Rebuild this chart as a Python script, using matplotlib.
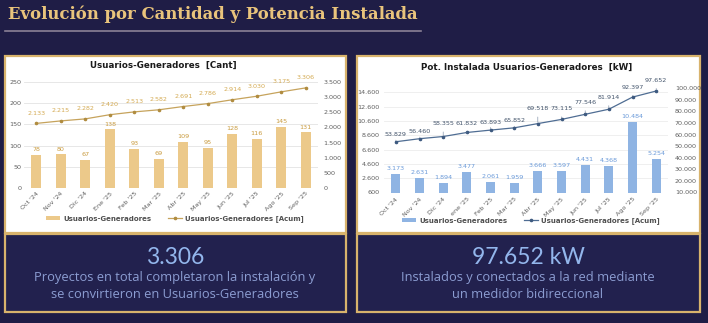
import matplotlib
matplotlib.use("Agg")
import matplotlib.pyplot as plt
from matplotlib.patches import Rectangle, Patch
from matplotlib.lines import Line2D

# ---------------- data ----------------
months_cant = ["Oct '24", "Nov '24", "Dic '24", "Ene '25", "Feb '25", "Mar '25",
               "Abr '25", "May '25", "Jun '25", "Jul '25", "Ago '25", "Sep '25"]
months_kw = ["Oct '24", "Nov '24", "Dic '24", "ene '25", "Feb '25", "Mar '25",
             "Abr '25", "May '25", "Jun '25", "Jul '25", "Ago '25", "Sep '25"]
users_monthly = [78, 80, 67, 138, 93, 69, 109, 95, 128, 116, 145, 131]
users_cumulative = [2133, 2215, 2282, 2420, 2513, 2582, 2691, 2786, 2914, 3030, 3175, 3306]
kw_monthly = [3173, 2631, 1894, 3477, 2061, 1959, 3666, 3597, 4431, 4368, 10484, 5254]
kw_cumulative = [53829, 56460, 58355, 61832, 63893, 65852, 69518, 73115, 77546, 81914, 92397, 97652]
left_ticks_cant = [0, 50, 100, 150, 200, 250]
right_ticks_cant = [0, 500, 1000, 1500, 2000, 2500, 3000, 3500]
left_ticks_kw = [600, 2600, 4600, 6600, 8600, 10600, 12600, 14600]
right_ticks_kw = [10000, 20000, 30000, 40000, 50000, 60000, 70000, 80000, 90000, 100000]
total_users_text = "3.306"
total_kw_text = "97.652 kW"

# label lift (pixels) for the kW cumulative labels (styling only)
kw_label_lift_px = [7, 7, 13, 9, 8, 7, 15, 11, 12, 12, 10, 11]

W, H = 708, 323
fig = plt.figure(figsize=(W / 100, H / 100), dpi=100)
fig.patch.set_facecolor("#1f1d46")

GOLD = "#d8b36c"
PANEL = "#22214e"


def fx(x):
    return x / W


def fy(y):
    return 1 - y / H


def rect(x0, y0, x1, y1, fc, ec=None, lw=0, z=0):
    r = Rectangle((fx(x0), fy(y1)), fx(x1) - fx(x0), fy(y0) - fy(y1),
                  transform=fig.transFigure, facecolor=fc,
                  edgecolor=ec if ec else "none", linewidth=lw, zorder=z)
    fig.patches.append(r)


def fmt(v):
    return f"{v:,.0f}".replace(",", ".")


# ---------------- header ----------------
fig.text(fx(8), fy(14), "Evolución por Cantidad y Potencia Instalada",
         family="DejaVu Serif", fontweight="bold", fontsize=11.9,
         color="#e9c47c", ha="left", va="center")
fig.add_artist(Line2D([fx(5), fx(421)], [fy(31), fy(31)], transform=fig.transFigure,
                      color="#8a8196", lw=1.2))

# ---------------- cards ----------------
for x0, x1 in [(5, 346), (357, 700)]:
    rect(x0, 56, x1, 233, "white", GOLD, 1.6, z=0)
    rect(x0, 234, x1, 312, PANEL, GOLD, 1.6, z=0)

TICK_COLOR = "#5f5f5f"
TICK_FS = 4.6

# ---------------- left chart ----------------
axL = fig.add_axes([fx(24), fy(188), fx(318) - fx(24), fy(82) - fy(188)])
axL.set_zorder(3)
axL.patch.set_visible(False)
x = list(range(len(months_cant)))
bar_c = "#ecc98a"
axL.bar(x, users_monthly, width=0.4, color=bar_c, zorder=2)
axL.set_ylim(0, 250)
axL.set_xlim(-0.5, len(x) - 0.5)
axL.set_yticks(left_ticks_cant)
axL.set_yticklabels([fmt(v) for v in left_ticks_cant])
axL.grid(axis="y", color="#e3e3e3", lw=0.6, zorder=0)
axL.set_axisbelow(True)
axL.set_xticks(x)
axL.set_xticklabels(months_cant, rotation=45, ha="right", rotation_mode="anchor")
for s in axL.spines.values():
    s.set_visible(False)
axL.tick_params(length=0, labelsize=TICK_FS, colors=TICK_COLOR, pad=2)
for i, v in enumerate(users_monthly):
    axL.annotate(fmt(v), (i, v), xytext=(0, 3.6), textcoords="offset points",
                 ha="center", va="center", fontsize=4.6, color="#c99b3f", clip_on=False)

axL2 = axL.twinx()
axL2.set_zorder(4)
axL2.patch.set_visible(False)
line_c = "#c6a35c"
axL2.plot(x, users_cumulative, color=line_c, lw=0.9, marker="o", ms=1.6,
          mfc="#b08c40", mec="#b08c40", zorder=3)
axL2.set_ylim(0, 3500)
axL2.set_yticks(right_ticks_cant)
axL2.set_yticklabels([fmt(v) for v in right_ticks_cant])
for s in axL2.spines.values():
    s.set_visible(False)
axL2.tick_params(length=0, labelsize=TICK_FS, colors=TICK_COLOR, pad=4)
for i, v in enumerate(users_cumulative):
    axL2.annotate(fmt(v), (i, v), xytext=(0, 7.2), textcoords="offset points",
                  ha="center", va="center", fontsize=4.6, color="#d4aa52",
                  clip_on=False)

fig.text(fx(163), fy(65), "Usuarios-Generadores  [Cant]", ha="center", va="center",
         fontsize=6.3, fontweight="bold", color="#1a1a1a")
handlesL = [Patch(facecolor=bar_c, edgecolor="none"),
            Line2D([0], [0], color=line_c, lw=0.9, marker="o", ms=1.6,
                   mfc="#b08c40", mec="#b08c40")]
fig.legend(handlesL, ["Usuarios-Generadores", "Usuarios-Generadores [Acum]"],
           loc="center", bbox_to_anchor=(fx(175), fy(219)), ncol=2, frameon=False,
           prop={"size": 5.0, "weight": "bold"}, labelcolor="#505050",
           handlelength=2.0, handleheight=0.6, columnspacing=2.5, handletextpad=0.4)

# ---------------- right chart ----------------
axR = fig.add_axes([fx(384), fy(192.5), fx(668) - fx(384), fy(88.3) - fy(192.5)])
axR.set_zorder(3)
axR.patch.set_visible(False)
xr = list(range(len(months_kw)))
bar_b = "#8fb4e3"
axR.bar(xr, kw_monthly, width=0.37, color=bar_b, zorder=2)
axR.set_ylim(600, 15150)
axR.set_xlim(-0.5, len(xr) - 0.5)
axR.set_yticks(left_ticks_kw)
axR.set_yticklabels([fmt(v) for v in left_ticks_kw])
axR.grid(axis="y", color="#ececec", lw=0.6, zorder=0)
axR.set_axisbelow(True)
axR.set_xticks(xr)
axR.set_xticklabels(months_kw, rotation=45, ha="right", rotation_mode="anchor")
for s in axR.spines.values():
    s.set_visible(False)
axR.tick_params(length=0, labelsize=TICK_FS, colors=TICK_COLOR, pad=3)
for i, v in enumerate(kw_monthly):
    axR.annotate(fmt(v), (i, v), xytext=(0, 3.8), textcoords="offset points",
                 ha="center", va="center", fontsize=4.6, color="#6a9ad9", clip_on=False)

axR2 = axR.twinx()
axR2.set_zorder(4)
axR2.patch.set_visible(False)
line_b = "#4f6d93"
axR2.plot(xr, kw_cumulative, color=line_b, lw=0.9, marker="o", ms=1.6,
          mfc="#3e5a80", mec="#3e5a80", zorder=3)
axR2.set_ylim(10000, 100000)
axR2.set_yticks(right_ticks_kw)
axR2.set_yticklabels([fmt(v) for v in right_ticks_kw])
for s in axR2.spines.values():
    s.set_visible(False)
axR2.tick_params(length=0, labelsize=TICK_FS, colors=TICK_COLOR, pad=5)
for i, v in enumerate(kw_cumulative):
    lift = kw_label_lift_px[i] * 0.72
    axR2.annotate(fmt(v), (i, v), xytext=(0, lift), textcoords="offset points",
                  ha="center", va="center", fontsize=4.6, color="#44556c",
                  clip_on=False,
                  arrowprops=dict(arrowstyle="-", color="#6b7f99", lw=0.4,
                                  shrinkA=2.2, shrinkB=0.8))

fig.text(fx(527), fy(67), "Pot. Instalada Usuarios-Generadores  [kW]", ha="center",
         va="center", fontsize=6.3, fontweight="bold", color="#1a1a1a")
handlesR = [Patch(facecolor=bar_b, edgecolor="none"),
            Line2D([0], [0], color=line_b, lw=0.9, marker="o", ms=1.6,
                   mfc="#3e5a80", mec="#3e5a80")]
fig.legend(handlesR, ["Usuarios-Generadores", "Usuarios-Generadores [Acum]"],
           loc="center", bbox_to_anchor=(fx(531), fy(221)), ncol=2, frameon=False,
           prop={"size": 5.0, "weight": "bold"}, labelcolor="#505050",
           handlelength=2.0, handleheight=0.6, columnspacing=2.5, handletextpad=0.4)

# ---------------- bottom panels ----------------
BIG_C = "#93b6ec"
SUB_C = "#8c9dd2"
BIG_FONT = dict(family="Lato", fontweight="normal", fontsize=16.5, color=BIG_C)
SUB_FONT = dict(family="Open Sans", fontweight="normal", fontsize=9.3, color=SUB_C)
fig.text(fx(175), fy(257), total_users_text, ha="center", va="center", **BIG_FONT)
fig.text(fx(175), fy(277), "Proyectos en total completaron la instalación y",
         ha="center", va="center", **SUB_FONT)
fig.text(fx(175), fy(295), "se convirtieron en Usuarios-Generadores",
         ha="center", va="center", **SUB_FONT)

fig.text(fx(528), fy(257), total_kw_text, ha="center", va="center", **BIG_FONT)
fig.text(fx(528), fy(277), "Instalados y conectados a la red mediante",
         ha="center", va="center", **SUB_FONT)
fig.text(fx(528), fy(295), "un medidor bidireccional",
         ha="center", va="center", **SUB_FONT)

fig.savefig("out.png", dpi=100, facecolor=fig.get_facecolor())
